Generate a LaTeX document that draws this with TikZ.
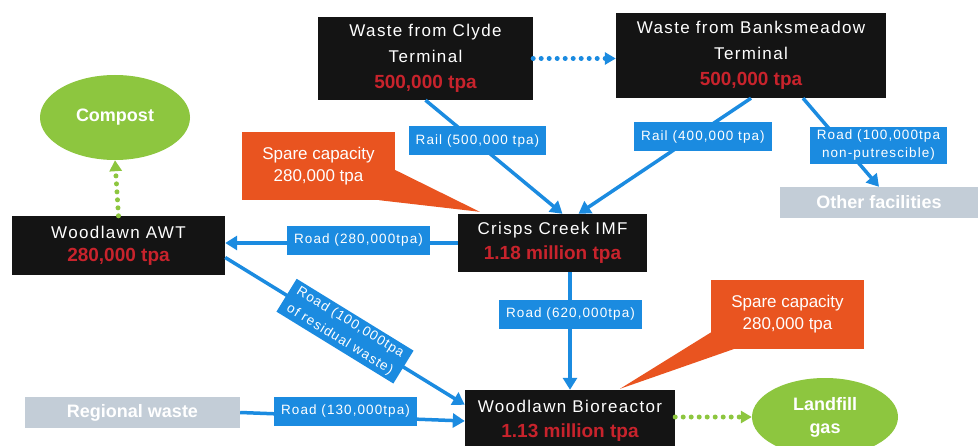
\documentclass[tikz,border=0pt]{standalone}
\usepackage{fontspec}
\setmainfont{Liberation Sans}
\newfontfamily\boxfont[LetterSpace=8]{Liberation Sans}
\newfontfamily\lblfont[LetterSpace=8]{Liberation Sans}
\usetikzlibrary{positioning,arrows.meta,calc,shapes.geometric}
\definecolor{tblack}{HTML}{141414}
\definecolor{tred}{HTML}{C8232C}
\definecolor{tblue}{HTML}{1B8BE0}
\definecolor{torange}{HTML}{E95420}
\definecolor{tgreen}{HTML}{8DC63F}
\definecolor{tgrey}{HTML}{C3CDD7}
\newcommand{\amount}[1]{{\rmfamily\bfseries\color{tred}\fontsize{19}{26}\selectfont #1}}

\begin{document}
\begin{tikzpicture}[x=1pt, y=-1pt,
    blk/.style={fill=tblack, text=white, align=center, inner sep=2pt,
                font=\boxfont\fontsize{17}{26}\selectfont},
    lbl/.style={fill=tblue, text=white, align=center, inner xsep=7pt,
                inner ysep=3pt, minimum height=29pt,
                font=\lblfont\fontsize{13.5}{18}\selectfont},
    spare/.style={fill=torange, text=white, align=center, minimum width=153pt,
                  minimum height=68pt, font=\fontsize{17}{22}\selectfont},
    grey/.style={fill=tgrey, text=white, minimum height=31pt,
                 font=\bfseries\fontsize{18}{20}\selectfont},
    blob/.style={ellipse, fill=tgreen, text=white, align=center, inner sep=0pt,
                 font=\bfseries\fontsize{18}{23}\selectfont},
    arr/.style={-{Triangle[length=12pt,width=14pt]}, tblue, line width=3.5pt},
    dotarr/.style={-{Triangle[length=11pt,width=12pt]}, dash pattern=on 0pt off 8pt,
                   line cap=round, line width=5pt}
  ]
  \useasboundingbox (0,0) rectangle (980,446);

  % Terminals
  \node[blk, minimum width=215pt, minimum height=83pt]
    (clyde) at (425.5,58.5) {Waste from Clyde\\Terminal\\\amount{500,000 tpa}};
  \node[blk, minimum width=270pt, minimum height=85pt]
    (banks) at (751,55.5) {Waste from Banksmeadow\\Terminal\\\amount{500,000 tpa}};

  % Facilities
  \node[blk, minimum width=189pt, minimum height=58pt, font=\boxfont\fontsize{17}{25}\selectfont]
    (cr) at (552.5,243) {Crisps Creek IMF\\\amount{1.18 million tpa}};
  \node[blk, minimum width=213pt, minimum height=59pt, font=\boxfont\fontsize{17}{23}\selectfont]
    (awt) at (118.5,245.5) {Woodlawn AWT\\\amount{280,000 tpa}};
  \node[blk, minimum width=210pt, minimum height=62pt, font=\boxfont\fontsize{17}{25}\selectfont]
    (bio) at (570,421) {Woodlawn Bioreactor\\\amount{1.13 million tpa}};

  % Outputs and sources
  \node[blob, minimum width=150pt, minimum height=85pt] (comp) at (115,117.5) {Compost};
  \node[blob, minimum width=146pt, minimum height=78pt] (land) at (825,417) {Landfill\\gas};
  \node[grey, minimum width=198pt] (other) at (879,202.5) {Other facilities};
  \node[grey, minimum width=215pt] (reg) at (132.5,412.5) {Regional waste};

  % Spare capacity callouts
  \node[spare] (sp1) at (318.5,166) {Spare capacity\\280,000 tpa};
  \node[spare] (sp2) at (787.5,314.5) {Spare capacity\\280,000 tpa};
  \fill[torange] ($(sp1.south east)+(-16,0)$) -- ($(cr.north west)+(22,-2)$)
    -- ($(sp1.east)+(0,4)$) -- cycle;
  \fill[torange] ($(sp2.west)+(0,18)$) -- ($(bio.north)+(50,-1)$)
    -- ($(sp2.south west)+(24,0)$) -- cycle;

  % Flows
  \draw[arr] (clyde.south) -- ($(cr.north)+(10,0)$);
  \draw[arr] (banks.south) -- ($(cr.north)+(26,0)$);
  \draw[arr] ($(banks.south)+(52,0)$) -- (other.north);
  \draw[arr] (cr.west) -- (cr.west -| awt.east);
  \draw[arr] (cr.south -| bio.north) -- (bio.north);
  \draw[arr] ($(awt.east)+(0,12)$) -- node[lbl, sloped, font=\lblfont\fontsize{13.5}{20}\selectfont] (resid)
    {Road (100,000tpa\\of residual waste)} ($(bio.north west)+(0,15)$);
  \draw[arr] (reg.east) -- (bio.west);
  \draw[dotarr, tblue] (clyde.east) -- (clyde.east -| banks.west);
  \draw[dotarr, tgreen] (awt.north) -- (comp.south);
  \draw[dotarr, tgreen] (bio.east |- land.west) -- (land.west);

  % Flow labels
  \node[lbl] (rail1) at (477.5,141) {Rail (500,000 tpa)};
  \node[lbl] (rail2) at (703,137) {Rail (400,000 tpa)};
  \node[lbl] (road1) at (878.5,145.5) {Road (100,000tpa\\non-putrescible)};
  \node[lbl] (road2) at (358.5,240.5) {Road (280,000tpa)};
  \node[lbl] (road3) at (570.5,314.5) {Road (620,000tpa)};
  \node[lbl] (road4) at (345.5,411.5) {Road (130,000tpa)};
\end{tikzpicture}
\end{document}
